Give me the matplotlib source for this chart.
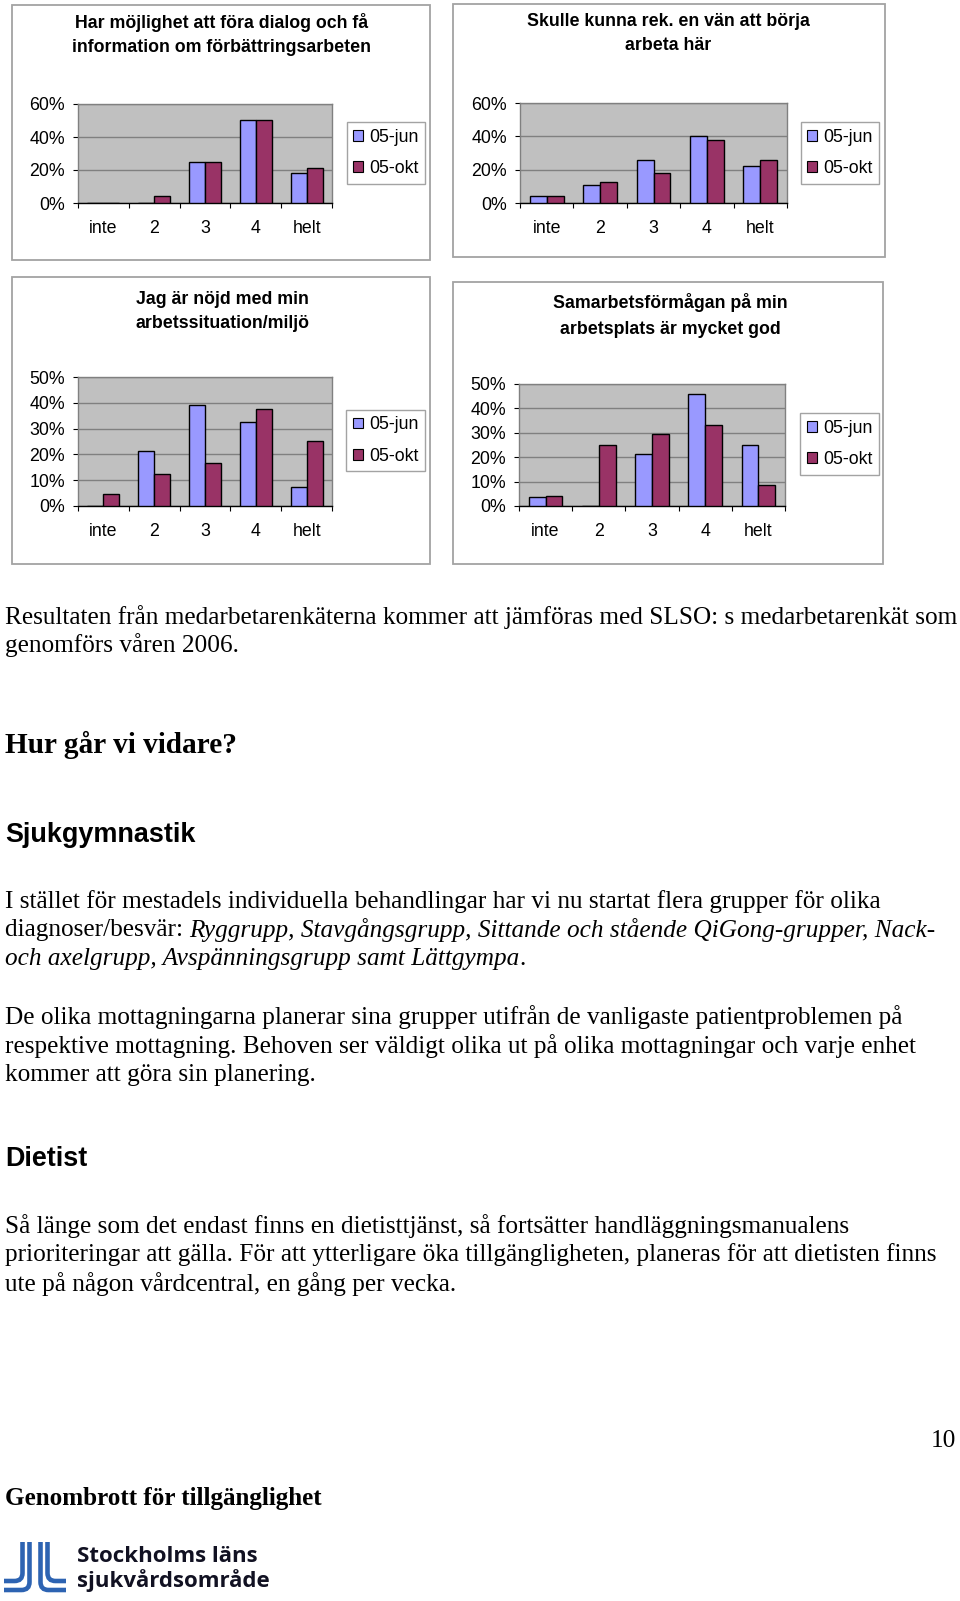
import matplotlib
matplotlib.use('Agg')
import matplotlib.pyplot as plt
import numpy as np
from matplotlib.patches import Rectangle, PathPatch
from matplotlib.path import Path

# ---------------- data ----------------
categories = ['inte', '2', '3', '4', 'helt']
series_names = ['05-jun', '05-okt']

dialog_jun = [0, 0, 25, 50, 18]
dialog_okt = [0, 4, 25, 50, 21]

rek_jun = [4, 10.5, 25.5, 40, 22]
rek_okt = [4, 12.5, 18, 38, 25.5]

nojd_jun = [0, 21.5, 39, 32.5, 7.5]
nojd_okt = [4.5, 12.5, 16.5, 37.5, 25]

samarb_jun = [3.5, 0, 21.5, 46, 25]
samarb_okt = [4, 25, 29.5, 33, 8.5]

yticks_60 = [0, 20, 40, 60]
yticks_50 = [0, 10, 20, 30, 40, 50]

title_dialog = ['Har möjlighet att föra dialog och få', 'information om förbättringsarbeten']
title_rek = ['Skulle kunna rek. en vän att börja', 'arbeta här']
title_nojd = ['Jag är nöjd med min', 'arbetssituation/miljö']
title_samarb = ['Samarbetsförmågan på min', 'arbetsplats är mycket god']

# ---------------- figure ----------------
W, H = 960, 1601
fig = plt.figure(figsize=(W / 100, H / 100), dpi=100)
fig.patch.set_facecolor('white')
renderer = fig.canvas.get_renderer()

SANS = 'Liberation Sans'
SERIF = 'Liberation Serif'
JUN_C = '#9999ff'
OKT_C = '#993366'
TICK_FS = 12.8


def fx(x):
    return x / W


def fy(y):
    return 1 - y / H


def chart(frame, title_lines, title_cx, title_ys, pbox, lbox, jun, okt, yticks, xpad):
    x0, y0, x1, y1 = frame
    fig.patches.append(Rectangle((fx(x0), fy(y1)), (x1 - x0) / W, (y1 - y0) / H,
                                 transform=fig.transFigure, fill=False,
                                 edgecolor='#a3a3a3', lw=1.3))
    for line, yy in zip(title_lines, title_ys):
        fig.text(fx(title_cx), fy(yy), line, ha='center', va='center',
                 fontsize=12.8, fontweight='bold', family=SANS)
    px0, py0, px1, py1 = pbox
    ax = fig.add_axes([fx(px0), fy(py1), (px1 - px0) / W, (py1 - py0) / H])
    ax.set_facecolor('#c0c0c0')
    x = np.arange(len(categories))
    w = 0.315
    ax.bar(x - w / 2, jun, w, color=JUN_C, edgecolor='black', lw=1.0, zorder=3)
    ax.bar(x + w / 2, okt, w, color=OKT_C, edgecolor='black', lw=1.0, zorder=3)
    ax.set_xlim(-0.5, len(categories) - 0.5)
    ax.set_ylim(0, yticks[-1])
    ax.set_yticks(yticks)
    ax.set_yticklabels([f'{t}%' for t in yticks], family=SANS, fontsize=TICK_FS)
    ax.yaxis.grid(True, color='#808080', lw=1.0)
    ax.set_axisbelow(True)
    for s in ['top', 'right', 'left']:
        ax.spines[s].set_color('#808080')
        ax.spines[s].set_linewidth(1.0)
    ax.spines['bottom'].set_color('black')
    ax.spines['bottom'].set_linewidth(1.0)
    ax.set_xticks(x)
    ax.set_xticklabels(categories, family=SANS, fontsize=TICK_FS)
    ax.tick_params(axis='x', which='major', length=0, pad=xpad)
    ax.set_xticks(np.arange(-0.5, len(categories), 1), minor=True)
    ax.tick_params(axis='x', which='minor', length=3.5, width=0.8, color='black')
    ax.tick_params(axis='y', length=3.5, width=0.8, color='black', pad=6)
    # legend
    lx0, ly0, lx1, ly1 = lbox
    handles = [Rectangle((0, 0), 1, 1, fc=JUN_C, ec='black', lw=0.8),
               Rectangle((0, 0), 1, 1, fc=OKT_C, ec='black', lw=0.8)]
    leg = fig.legend(handles, series_names, loc='center',
                     bbox_to_anchor=(fx((lx0 + lx1) / 2), fy((ly0 + ly1) / 2)),
                     frameon=True, fancybox=False, framealpha=1,
                     edgecolor='#a3a3a3', prop={'family': SANS, 'size': TICK_FS},
                     handlelength=0.55, handleheight=0.55, handletextpad=0.35,
                     labelspacing=0.8, borderpad=0.36, borderaxespad=0)
    leg.get_frame().set_linewidth(1.0)
    return ax


chart((12, 5, 430, 260), title_dialog, 222, (23, 47), (78, 104, 332, 203),
      (349, 123, 423, 183), dialog_jun, dialog_okt, yticks_60, 12.5)
chart((453, 4, 885, 257), title_rek, 668, (22, 46), (520, 103, 787, 203),
      (803, 123, 877, 183), rek_jun, rek_okt, yticks_60, 12.5)
chart((12, 277, 430, 564), title_nojd, 222, (299, 323), (78, 377, 332, 506),
      (348, 410, 423, 471), nojd_jun, nojd_okt, yticks_50, 12.5)
chart((453, 282, 883, 564), title_samarb, 670, (303, 329), (519, 384, 785, 506),
      (802, 414, 877, 474), samarb_jun, samarb_okt, yticks_50, 12.5)

# ---------------- body text ----------------
S = 960 / 940


def fit_size(text, target_w, **kw):
    t = fig.text(0, 0, text, fontsize=10, **kw)
    w = t.get_window_extent(renderer=renderer).width
    t.remove()
    return 10 * target_w / w


body_size = fit_size('Resultaten från medarbetarenkäterna kommer att jämföras med SLSO: s medarbetarenkät som',
                     952, family=SERIF)


def line(y940, segments, x=5, size=None, family=SERIF, weight='normal'):
    size = size or body_size
    xx = x
    for txt, style in segments:
        t = fig.text(fx(xx), fy(y940 * S), txt, ha='left', va='center', fontsize=size,
                     family=family, style=style, fontweight=weight)
        xx += t.get_window_extent(renderer=renderer).width


line(604, [('Resultaten från medarbetarenkäterna kommer att jämföras med SLSO: s medarbetarenkät som', 'normal')])
line(632, [('genomförs våren 2006.', 'normal')])

hur_size = fit_size('Hur går vi vidare?', 233, family=SERIF, fontweight='bold')
line(729, [('Hur går vi vidare?', 'normal')], size=hur_size, weight='bold')

sj_size = fit_size('Sjukgymnastik', 191, family=SANS, fontweight='bold')
line(818, [('Sjukgymnastik', 'normal')], size=sj_size, family=SANS, weight='bold')

line(883, [('I stället för mestadels individuella behandlingar har vi nu startat flera grupper för olika', 'normal')])
line(911, [('diagnoser/besvär: ', 'normal'),
           ('Ryggrupp, Stavgångsgrupp, Sittande och stående QiGong-grupper, Nack-', 'italic')])
line(939, [('och axelgrupp, Avspänningsgrupp samt Lättgympa', 'italic'), ('.', 'normal')])

line(996, [('De olika mottagningarna planerar sina grupper utifrån de vanligaste patientproblemen på', 'normal')])
line(1024, [('respektive mottagning. Behoven ser väldigt olika ut på olika mottagningar och varje enhet', 'normal')])
line(1053, [('kommer att göra sin planering.', 'normal')])

line(1135, [('Dietist', 'normal')], size=sj_size, family=SANS, weight='bold')

line(1200, [('Så länge som det endast finns en dietisttjänst, så fortsätter handläggningsmanualens', 'normal')])
line(1228, [('prioriteringar att gälla. För att ytterligare öka tillgängligheten, planeras för att dietisten finns', 'normal')])
line(1257, [('ute på någon vårdcentral, en gång per vecka.', 'normal')])

fig.text(fx(956), fy(1411 * S), '10', ha='right', va='center', fontsize=body_size, family=SERIF)

gen_size = fit_size('Genombrott för tillgänglighet', 318, family=SERIF, fontweight='bold')
line(1467, [('Genombrott för tillgänglighet', 'normal')], size=gen_size, weight='bold')

# ---------------- logo ----------------
lax = fig.add_axes([0, fy(1600), 70 / W, 65 / H])
lax.set_xlim(0, 70)
lax.set_ylim(1600, 1535)
lax.axis('off')
BLUE = '#2d63b2'
for vx, hy, direction, endx in [(22.5, 1581, -1, 4), (29.5, 1590, -1, 4),
                                (40.5, 1590, 1, 66), (47.5, 1581, 1, 66)]:
    r = 8
    verts = [(vx, 1542), (vx, hy - r), (vx, hy), (vx + direction * r, hy), (endx, hy)]
    codes = [Path.MOVETO, Path.LINETO, Path.CURVE3, Path.CURVE3, Path.LINETO]
    lax.add_patch(PathPatch(Path(verts, codes), fill=False, edgecolor=BLUE, lw=3.3,
                            capstyle='butt'))

logo_size = fit_size('Stockholms läns', 181, family='Open Sans', fontweight='bold')
fig.text(fx(77), fy(1524 * S), 'Stockholms läns', ha='left', va='center',
         fontsize=logo_size, family='Open Sans', fontweight='bold', color='#111122')
fig.text(fx(77), fy(1548 * S), 'sjukvårdsområde', ha='left', va='center',
         fontsize=logo_size, family='Open Sans', fontweight='bold', color='#111122')

fig.savefig('out.png', dpi=100, facecolor='white')
